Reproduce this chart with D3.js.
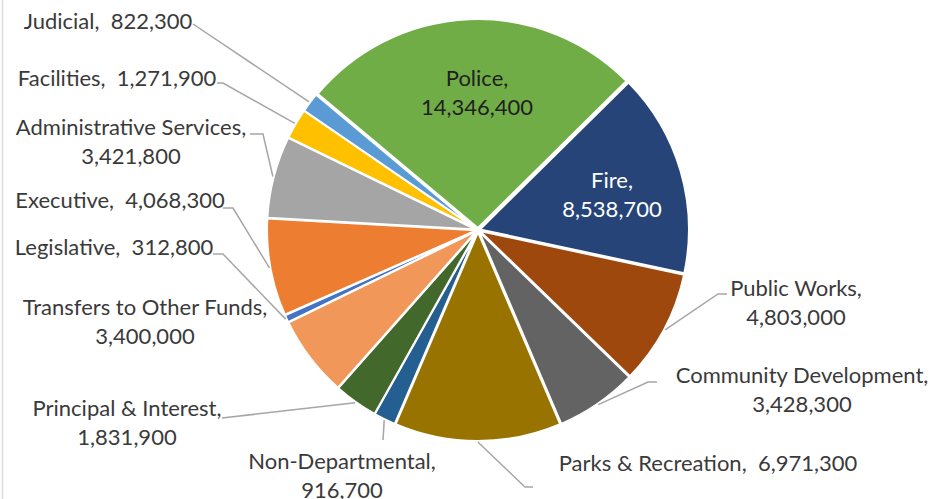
<!DOCTYPE html>
<html>
<head>
<meta charset="utf-8">
<script src="https://d3js.org/d3.v7.min.js"></script>
<style>
  body { margin: 0; background: #fff; }
  svg { display: block; }
  text { font-family: Lato, "Noto Sans", sans-serif; font-size: 22px; fill: #3a3a3a; white-space: pre; }
  .leader { fill: none; stroke: #a6a6a6; stroke-width: 1.5px; }
</style>
</head>
<body>
<script>
// budget by department, in slice order (clockwise from the first slice)
var categories = ['Legislative', 'Executive', 'Administrative Services', 'Facilities', 'Judicial',
  'Police', 'Fire', 'Public Works', 'Community Development', 'Parks & Recreation',
  'Non-Departmental', 'Principal & Interest', 'Transfers to Other Funds'];
var values = [312800, 4068300, 3421800, 1271900, 822300,
  14346400, 8538700, 4803000, 3428300, 6971300,
  916700, 1831900, 3400000];
var colors = ['#4472C4', '#ED7D31', '#A5A5A5', '#FFC000', '#5B9BD5',
  '#70AD47', '#264478', '#9E480E', '#636363', '#997300',
  '#255E91', '#43682B', '#F1975A'];

// label placement (manual, like the excel chart): centre x, first line y, two lines or one,
// leader = points from label side to the elbow (last point is on the slice)
var labelLayout = {
  'Legislative':              { x: 114, y: 247, split: false, leader: [[213, 254], [223, 254]] },
  'Executive':                { x: 120, y: 200, split: false, leader: [[223, 208], [233, 208]] },
  'Administrative Services':  { x: 131, y: 127, split: true,  leader: [[250, 134], [263, 134]] },
  'Facilities':               { x: 117, y: 78,  split: false, leader: [[217, 83], [223, 83]] },
  'Judicial':                 { x: 108, y: 21,  split: false, leader: [[193, 24]] },
  'Police':                   { x: 477, y: 78,  split: true,  inside: true, color: '#1f1f1f' },
  'Fire':                     { x: 612, y: 180, split: true,  inside: true, color: '#ffffff' },
  'Public Works':             { x: 796, y: 288, split: true,  leader: [[727, 294], [718, 294]] },
  'Community Development':    { x: 802, y: 375, split: true,  leader: [[657, 382], [648, 382]] },
  'Parks & Recreation':       { x: 708, y: 463, split: false, leader: [[533, 487], [525, 487]] },
  'Non-Departmental':         { x: 342, y: 461, split: true,  leader: [[383, 440]] },
  'Principal & Interest':     { x: 127, y: 408, split: true,  leader: [[222, 418]] },
  'Transfers to Other Funds': { x: 145, y: 307, split: true }
};

var width = 933, height = 499;
var cx = 478, cy = 230, radius = 209, explode = 2;
var startDeg = 244.1;

var data = categories.map(function(c, i) { return { name: c, value: values[i], color: colors[i] }; });

var pie = d3.pie()
  .sort(null)
  .value(function(d) { return d.value; })
  .startAngle(startDeg * Math.PI / 180)
  .endAngle(startDeg * Math.PI / 180 + 2 * Math.PI);

var arc = d3.arc().innerRadius(0).outerRadius(radius);

var svg = d3.select('body').append('svg')
  .attr('width', width)
  .attr('height', height);

// chart frame edge on the left
svg.append('line')
  .attr('x1', 2.5).attr('x2', 2.5).attr('y1', 0).attr('y2', height)
  .attr('stroke', '#d9d9d9').attr('stroke-width', 1.5);

var g = svg.append('g').attr('transform', 'translate(' + cx + ',' + cy + ')');
var arcs = pie(data);

function polar(a, r) { return [Math.sin(a) * r, -Math.cos(a) * r]; }

g.selectAll('path.slice')
  .data(arcs)
  .enter().append('path')
  .attr('class', 'slice')
  .attr('d', arc)
  .attr('transform', function(d) {
    var p = polar((d.startAngle + d.endAngle) / 2, explode);
    return 'translate(' + p[0] + ',' + p[1] + ')';
  })
  .attr('fill', function(d) { return d.data.color; })
  .attr('stroke', '#fff')
  .attr('stroke-width', 2);

var fmt = d3.format(',');

// leader lines
arcs.forEach(function(d) {
  var L = labelLayout[d.data.name];
  if (!L.leader) return;
  var p = polar((d.startAngle + d.endAngle) / 2, radius + explode + 1);
  var pts = L.leader.map(function(q) { return [q[0] - cx, q[1] - cy]; }).concat([p]);
  g.append('path')
    .attr('class', 'leader')
    .attr('d', d3.line()(pts));
});

// labels
arcs.forEach(function(d) {
  var L = labelLayout[d.data.name];
  var lines = L.split
    ? [d.data.name + ',', fmt(d.data.value)]
    : [d.data.name + ',  ' + fmt(d.data.value)];
  var t = svg.append('text')
    .attr('text-anchor', 'middle')
    .style('fill', L.color || null);
  lines.forEach(function(s, i) {
    t.append('tspan')
      .attr('x', L.x)
      .attr('y', L.y + 7.5 + i * 29)
      .text(s);
  });
});
</script>
</body>
</html>
